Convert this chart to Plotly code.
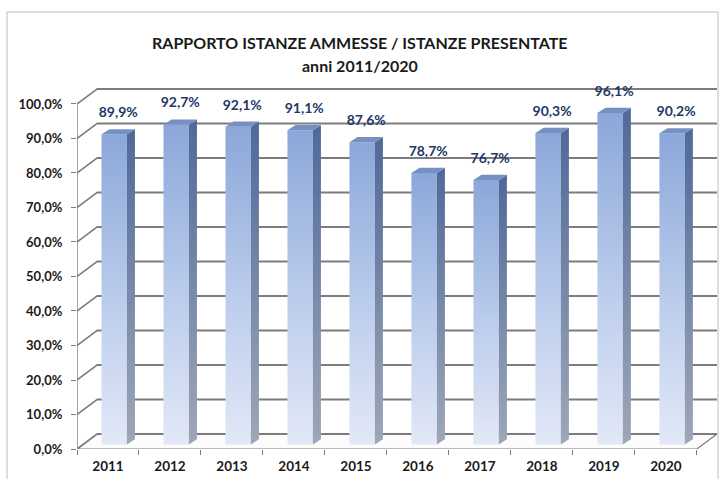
import plotly.graph_objects as go

# ---- data ----
years = ["2011", "2012", "2013", "2014", "2015", "2016", "2017", "2018", "2019", "2020"]
ratios = [89.9, 92.7, 92.1, 91.1, 87.6, 78.7, 76.7, 90.3, 96.1, 90.2]
y_ticks = [0, 10, 20, 30, 40, 50, 60, 70, 80, 90, 100]
y_tick_labels = ["0,0%", "10,0%", "20,0%", "30,0%", "40,0%", "50,0%",
                 "60,0%", "70,0%", "80,0%", "90,0%", "100,0%"]
title_line1 = "RAPPORTO ISTANZE AMMESSE / ISTANZE PRESENTATE"
title_line2 = "anni 2011/2020"

bar_labels = [f"{v:.1f}".replace(".", ",") + "%" for v in ratios]

# ---- 3D look geometry (styling, not data) ----
DX, DY = 0.324, 4.35          # depth of the box (x in categories, y in %)
SHIFT_X, BASE = 0.10, 1.3     # bar placement inside the depth
BAR_W = 0.41
SX, SY = 0.13, 1.5            # bar side/top depth
LABEL_OFF = 6.0
GRID = "#7c7c7c"
HY = 0.3                      # half thickness of wall lines (y units)
HX = 0.011                    # half thickness of vertical axis (x units)
FONT = "Lato"

n = len(years)
xmin, xmax = -0.5, n - 0.5

fig = go.Figure()

# floor of the 3D box
fig.add_trace(go.Scatter(
    x=[xmin, xmax, xmax + DX, xmin + DX, xmin],
    y=[0, 0, DY, DY, 0],
    mode="lines", fill="toself", fillcolor="#fcfcfc",
    line=dict(color=GRID, width=1.2), hoverinfo="skip", showlegend=False))

# back-wall gridlines and left-wall diagonals, drawn as thin filled bands
gx, gy = [], []
for t in y_ticks:
    gx += [xmin + DX, xmax + DX, xmax + DX, xmin + DX, xmin + DX, None]
    gy += [t + DY - HY, t + DY - HY, t + DY + HY, t + DY + HY, t + DY - HY, None]
    gx += [xmin, xmin + DX, xmin + DX, xmin, xmin, None]
    gy += [t - HY, t + DY - HY, t + DY + HY, t + HY, t - HY, None]
gx += [xmin - HX, xmin + HX, xmin + HX, xmin - HX, xmin - HX, None]
gy += [0, 0, y_ticks[-1], y_ticks[-1], 0, None]
fig.add_trace(go.Scatter(
    x=gx, y=gy, mode="lines", fill="toself", fillcolor=GRID,
    line=dict(width=0, color="rgba(0,0,0,0)"),
    hoverinfo="skip", showlegend=False))

for i, v in enumerate(ratios):
    c0 = i + SHIFT_X - BAR_W / 2
    c1 = i + SHIFT_X + BAR_W / 2
    top = BASE + v
    # front face
    fig.add_trace(go.Scatter(
        x=[c0, c1, c1, c0, c0], y=[BASE, BASE, top, top, BASE],
        mode="lines", fill="toself", line=dict(width=0, color="rgba(0,0,0,0)"),
        fillgradient=dict(type="vertical", start=BASE, stop=top,
                          colorscale=[[0, "#e2e8f7"], [0.5, "#b8caeb"], [1, "#8ba7d9"]]),
        hoverinfo="skip", showlegend=False))
    # side face
    fig.add_trace(go.Scatter(
        x=[c1, c1 + SX, c1 + SX, c1, c1], y=[BASE, BASE + SY, top + SY, top, BASE],
        mode="lines", fill="toself", line=dict(width=0, color="rgba(0,0,0,0)"),
        fillgradient=dict(type="vertical", start=BASE, stop=top,
                          colorscale=[[0, "#9ea7b8"], [1, "#516a99"]]),
        hoverinfo="skip", showlegend=False))
    # top face
    fig.add_trace(go.Scatter(
        x=[c0, c1, c1 + SX, c0 + SX, c0], y=[top, top, top + SY, top + SY, top],
        mode="lines", fill="toself", line=dict(width=0, color="rgba(0,0,0,0)"),
        fillcolor="#7590c2", hoverinfo="skip", showlegend=False))

# data labels
fig.add_trace(go.Scatter(
    x=[i + SHIFT_X + SX / 2 for i in range(n)],
    y=[BASE + v + LABEL_OFF for v in ratios],
    mode="text", text=bar_labels, textposition="middle center",
    textfont=dict(family=FONT, size=14, color="#1f3868", weight="bold"),
    hoverinfo="skip", showlegend=False, cliponaxis=False))

# outer chart border
shapes = [dict(type="rect", xref="paper", yref="paper",
               x0=(7 - 77) / 640, x1=(718 - 77) / 640,
               y0=(449 - 490) / 364, y1=(449 - 12) / 364,
               line=dict(color="#bdbdbd", width=1), fillcolor="rgba(0,0,0,0)")]

fig.update_layout(
    width=719, height=479,
    margin=dict(l=77, r=2, t=85, b=30),
    paper_bgcolor="white", plot_bgcolor="white",
    shapes=shapes,
    xaxis=dict(range=[xmin, xmax + DX], tickmode="array",
               tickvals=list(range(n)), ticktext=years, ticks="",
               showgrid=False, zeroline=False, showline=False,
               ticklabelstandoff=7,
               tickfont=dict(family=FONT, size=13.5, color="#1a1a1a", weight="bold"),
               minor=dict(tickmode="array", tickvals=[k - 0.5 for k in range(n + 1)],
                          ticks="outside", ticklen=5, tickcolor=GRID, tickwidth=1.2,
                          showgrid=False),
               fixedrange=True),
    yaxis=dict(range=[0, 105.5], tickmode="array", tickvals=y_ticks,
               ticktext=y_tick_labels, ticks="outside", ticklen=5, tickcolor=GRID,
               tickwidth=1.2, showgrid=False, zeroline=False, showline=False,
               ticklabelstandoff=6,
               tickfont=dict(family=FONT, size=13, color="#1a1a1a", weight="bold"),
               fixedrange=True),
    annotations=[
        dict(text=f"<b>{title_line1}</b>", xref="paper", yref="paper",
             x=(360 - 77) / 640, y=(449 - 43) / 364, showarrow=False,
             xanchor="center", yanchor="middle",
             font=dict(family=FONT, size=16, color="#1a1a1a")),
        dict(text=f"<b>{title_line2}</b>", xref="paper", yref="paper",
             x=(360 - 77) / 640, y=(449 - 66) / 364, showarrow=False,
             xanchor="center", yanchor="middle",
             font=dict(family=FONT, size=16, color="#1a1a1a")),
    ],
)

fig.write_html(
    "out.html",
    config={"displayModeBar": False},
    post_script="document.body.style.margin='0';document.body.style.overflow='hidden';",
)
